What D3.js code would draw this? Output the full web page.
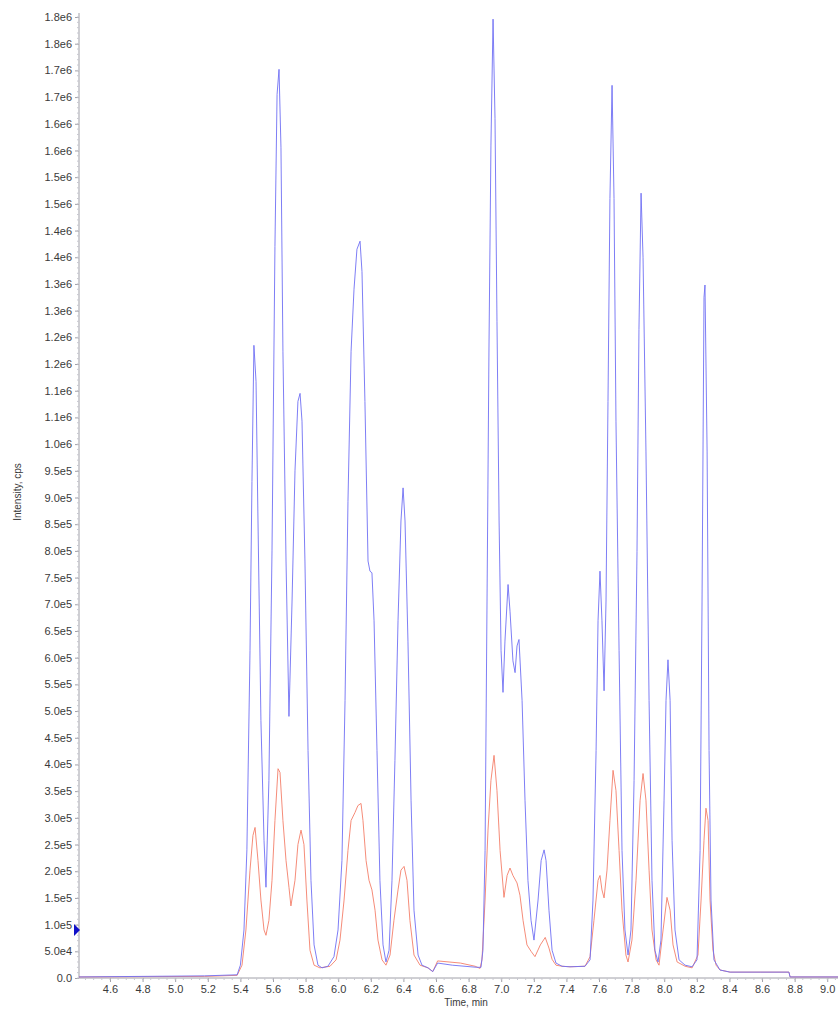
<!DOCTYPE html>
<html>
<head>
<meta charset="utf-8">
<script src="https://cdn.jsdelivr.net/npm/d3@7"></script>
<style>
  html, body { margin: 0; padding: 0; background: #fff; }
  svg { display: block; }
  text { font-family: "Liberation Sans", Arial, Helvetica, sans-serif; }
</style>
</head>
<body>
<svg id="chart" width="838" height="1009"></svg>
<script>
// ---- data (time in min, intensity in cps) ----
const blueTime = [4.41,5.18,5.38,5.40,5.422,5.44,5.459,5.471,5.483,5.496,5.508,5.526,5.545,5.557,5.575,5.594,5.612,5.625,5.637,5.649,5.661,5.68,5.698,5.717,5.735,5.753,5.766,5.778,5.796,5.815,5.833,5.852,5.876,5.901,5.937,5.974,5.999,6.023,6.042,6.06,6.079,6.097,6.115,6.134,6.146,6.164,6.183,6.195,6.207,6.22,6.238,6.256,6.275,6.293,6.312,6.33,6.348,6.367,6.385,6.398,6.41,6.428,6.447,6.465,6.49,6.514,6.551,6.58,6.61,6.7,6.85,6.876,6.888,6.901,6.913,6.925,6.937,6.95,6.962,6.974,6.987,6.999,7.011,7.023,7.042,7.054,7.072,7.085,7.097,7.109,7.128,7.146,7.164,7.183,7.201,7.226,7.245,7.263,7.275,7.293,7.312,7.336,7.373,7.422,7.514,7.545,7.563,7.582,7.594,7.606,7.618,7.631,7.643,7.655,7.667,7.68,7.692,7.704,7.723,7.741,7.759,7.778,7.796,7.815,7.833,7.845,7.858,7.87,7.888,7.907,7.925,7.943,7.962,7.98,7.999,8.011,8.023,8.036,8.048,8.066,8.091,8.128,8.171,8.201,8.22,8.232,8.244,8.25,8.263,8.275,8.287,8.305,8.342,8.404,8.588,8.765,8.772,9.09];
const blueIntensity = [2000,4000,6000,24000,90000,240000,613000,930000,1185000,1117000,856000,482000,258000,170000,370000,800000,1370000,1655000,1702000,1555000,1174000,781000,490000,706000,950000,1080000,1095000,1043000,781000,426000,183000,62000,24000,19000,22000,40000,90000,220000,520000,893000,1174000,1290000,1365000,1380000,1323000,1080000,781000,762000,759000,669000,426000,183000,62000,30000,52000,183000,407000,669000,856000,918000,856000,631000,333000,127000,43000,24000,19000,12000,28000,24000,20000,20000,52000,239000,706000,1180000,1560000,1796000,1610000,1230000,856000,613000,535000,631000,737000,687000,594000,572000,622000,634000,520000,333000,183000,108000,71000,146000,220000,240000,220000,127000,52000,28000,22000,21000,22000,34000,146000,426000,669000,762000,669000,538000,706000,1080000,1460000,1672000,1460000,1043000,613000,239000,90000,43000,90000,370000,799000,1215000,1470000,1350000,987000,520000,183000,52000,30000,71000,333000,520000,596000,520000,258000,90000,34000,24000,21000,34000,239000,706000,1275000,1298000,987000,426000,146000,34000,15000,11000,11000,11000,2000,2000];

const redTime = [4.41,5.18,5.38,5.41,5.434,5.459,5.477,5.49,5.508,5.526,5.545,5.557,5.575,5.594,5.612,5.631,5.643,5.661,5.68,5.698,5.71,5.735,5.753,5.772,5.79,5.808,5.827,5.852,5.888,5.95,5.987,6.011,6.036,6.06,6.079,6.103,6.121,6.14,6.152,6.171,6.189,6.207,6.226,6.244,6.269,6.293,6.318,6.342,6.367,6.385,6.404,6.422,6.44,6.465,6.502,6.551,6.58,6.61,6.75,6.84,6.87,6.882,6.901,6.919,6.937,6.956,6.974,6.993,7.017,7.036,7.054,7.072,7.097,7.115,7.134,7.158,7.183,7.207,7.24,7.27,7.293,7.312,7.336,7.373,7.422,7.514,7.545,7.569,7.594,7.606,7.618,7.631,7.649,7.667,7.686,7.704,7.723,7.741,7.765,7.778,7.802,7.827,7.852,7.87,7.888,7.907,7.925,7.95,7.968,7.993,8.017,8.036,8.054,8.079,8.128,8.171,8.207,8.226,8.244,8.256,8.269,8.281,8.299,8.318,8.342,8.404,8.588,8.765,8.772,9.09];
const redIntensity = [2000,3000,5000,24000,90000,202000,267000,282000,220000,146000,90000,80000,108000,183000,295000,392000,385000,295000,220000,170000,135000,183000,250000,277000,250000,146000,52000,24000,19000,22000,34000,71000,146000,239000,295000,310000,323000,327000,295000,220000,183000,165000,127000,71000,34000,24000,43000,108000,165000,202000,209000,183000,108000,43000,24000,19000,12000,32000,28000,22000,18000,34000,146000,277000,370000,417000,351000,239000,151000,192000,206000,192000,178000,155000,108000,62000,50000,40000,62000,76000,56000,35000,24000,22000,21000,22000,40000,108000,183000,192000,165000,150000,202000,295000,389000,351000,239000,127000,43000,30000,71000,183000,333000,383000,333000,202000,90000,34000,24000,90000,151000,127000,62000,30000,22000,19000,43000,146000,258000,318000,295000,146000,52000,24000,15000,11000,11000,11000,2000,2000];

const xTicks = [4.6,4.8,5.0,5.2,5.4,5.6,5.8,6.0,6.2,6.4,6.6,6.8,7.0,7.2,7.4,7.6,7.8,8.0,8.2,8.4,8.6,8.8,9.0];
const yTickStep = 50000;
const yMax = 1800000;
const xLabel = "Time, min";
const yLabel = "Intensity, cps";

// ---- layout ----
const svg = d3.select("#chart");
const plotLeft = 79, plotRight = 838, plotTop = 17, plotBottom = 978;

const x = d3.scaleLinear().domain([4.41, 9.066]).range([plotLeft, plotRight]);
const y = d3.scaleLinear().domain([0, yMax]).range([plotBottom, plotTop]);

const yTicks = d3.range(0, yMax + 1, yTickStep);
const yMinor = d3.range(0, yMax + 1, 10000);
const xMinor = d3.range(4.45, 9.066, 0.05);

const axisColor = "#a0a0a8";
const textColor = "#3a3a3a";

// y axis
const yAxis = d3.axisLeft(y).tickValues(yTicks).tickSize(4).tickPadding(3)
  .tickFormat(v => v === 0 ? "0.0" : v.toExponential(1).replace("e+", "e"));
const gy = svg.append("g").attr("transform", `translate(${plotLeft},0)`).call(yAxis);
gy.select(".domain").attr("stroke", axisColor).attr("d", `M0,${plotBottom}V${plotTop - 4}`);
gy.selectAll(".tick line").attr("stroke", axisColor);
gy.selectAll(".tick text").attr("fill", textColor).style("font-size", "11px")
  .style("font-family", '"Liberation Sans", Arial, sans-serif');
svg.append("g").selectAll("line").data(yMinor).join("line")
  .attr("x1", plotLeft - 2).attr("x2", plotLeft).attr("y1", d => y(d)).attr("y2", d => y(d))
  .attr("stroke", "#c8c8d0").attr("stroke-width", 1);

// x axis
const xAxis = d3.axisBottom(x).tickValues(xTicks).tickSize(4).tickPadding(3)
  .tickFormat(d3.format(".1f"));
const gx = svg.append("g").attr("transform", `translate(0,${plotBottom})`).call(xAxis);
gx.select(".domain").attr("stroke", axisColor).attr("d", `M${plotLeft},0H${plotRight}`);
gx.selectAll(".tick line").attr("stroke", axisColor);
gx.selectAll(".tick text").attr("fill", textColor).style("font-size", "11px")
  .style("font-family", '"Liberation Sans", Arial, sans-serif');
svg.append("g").selectAll("line").data(xMinor).join("line")
  .attr("x1", d => x(d)).attr("x2", d => x(d)).attr("y1", plotBottom).attr("y2", plotBottom + 2)
  .attr("stroke", "#c8c8d0").attr("stroke-width", 1);

// axis titles
svg.append("text").attr("x", 466).attr("y", 1006).attr("text-anchor", "middle")
  .attr("fill", textColor).style("font-size", "10px").text(xLabel);
svg.append("text").attr("transform", "translate(21,492) rotate(-90)").attr("text-anchor", "middle")
  .attr("fill", textColor).style("font-size", "10px").text(yLabel);

// traces
const line = d3.line().x(d => x(d[0])).y(d => y(d[1]));
const redData = redTime.map((t, i) => [t, redIntensity[i]]);
const blueData = blueTime.map((t, i) => [t, blueIntensity[i]]);

svg.append("path").datum(redData).attr("d", line).attr("fill", "none")
  .attr("stroke", "#f4806a").attr("stroke-width", 1).attr("stroke-opacity", 0.9)
  .attr("stroke-linejoin", "round");
svg.append("path").datum(blueData).attr("d", line).attr("fill", "none")
  .attr("stroke", "#7070f4").attr("stroke-width", 1).attr("stroke-opacity", 0.9)
  .attr("stroke-linejoin", "round");

// marker triangle on the y axis
const my = y(90000);
svg.append("path").attr("d", `M${plotLeft - 5},${my - 6}L${plotLeft + 1},${my}L${plotLeft - 5},${my + 6}Z`)
  .attr("fill", "#1010c8");
</script>
</body>
</html>
